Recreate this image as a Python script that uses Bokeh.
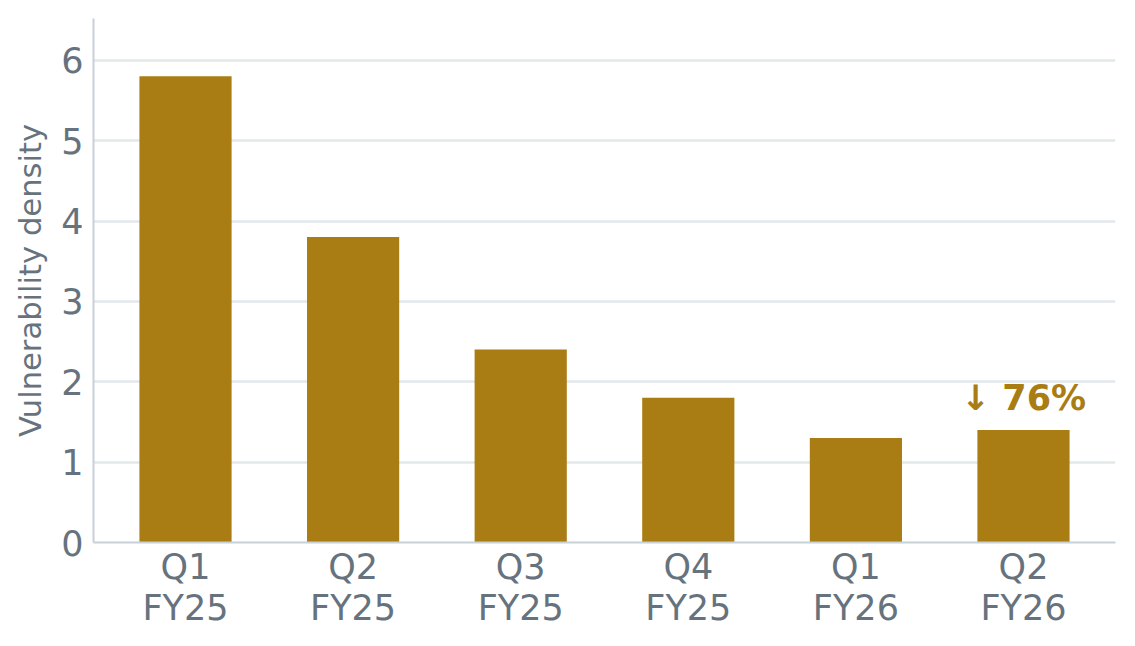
from bokeh.core.properties import value
from bokeh.embed import file_html
from bokeh.models import ColumnDataSource, SingleIntervalTicker, FixedTicker
from bokeh.plotting import figure
from bokeh.resources import INLINE

# data
quarters = ["Q1\nFY25", "Q2\nFY25", "Q3\nFY25", "Q4\nFY25", "Q1\nFY26", "Q2\nFY26"]
density = [5.8, 3.8, 2.4, 1.8, 1.3, 1.4]
positions = list(range(len(quarters)))

drop = round((density[0] - density[-1]) / density[0] * 100)
note = f"↓ {drop}%"

GOLD = "#A97C14"
TEXT = "#66737E"
FONT = "DejaVu Sans"

src = ColumnDataSource(data=dict(x=positions, top=density))

p = figure(width=1119, height=630,
           x_range=(-0.549, len(quarters) - 1 + 0.549),
           y_range=(0, 6.52),
           output_backend="svg",
           toolbar_location=None,
           tools="",
           min_border_left=93, min_border_right=4,
           min_border_top=18, min_border_bottom=87)

p.vbar(x="x", top="top", width=0.55, bottom=0, source=src,
       fill_color=GOLD, line_color=None)

p.text(x=[positions[-1]], y=[density[-1]], text=[note],
       text_align="center", text_baseline="middle", y_offset=-32,
       text_font=value(FONT), text_font_size="35px",
       text_font_style="bold", text_color=GOLD)

p.outline_line_color = None
p.xgrid.grid_line_color = None
p.ygrid.grid_line_color = "#E3E8EB"
p.ygrid.grid_line_width = 2.5

p.yaxis.ticker = SingleIntervalTicker(interval=1)
p.xaxis.ticker = FixedTicker(ticks=positions)
p.xaxis.major_label_overrides = {i: q for i, q in enumerate(quarters)}

for ax in (p.xaxis, p.yaxis):
    ax.axis_line_color = "#C8D0D8"
    ax.axis_line_width = 2
    ax.major_tick_line_color = None
    ax.minor_tick_line_color = None
    ax.major_tick_out = 0
    ax.major_tick_in = 0
    ax.major_label_text_font = FONT
    ax.major_label_text_font_size = "35px"
    ax.major_label_text_color = TEXT

p.xaxis.major_label_text_line_height = 1.03
p.yaxis.major_label_standoff = 6
p.xaxis.major_label_standoff = 4

p.yaxis.axis_label = "Vulnerability density"
p.yaxis.axis_label_text_font = FONT
p.yaxis.axis_label_text_font_size = "30.6px"
p.yaxis.axis_label_text_font_style = "normal"
p.yaxis.axis_label_text_color = TEXT
p.yaxis.axis_label_standoff = 10

open("out.html", "w").write(file_html(p, INLINE))
